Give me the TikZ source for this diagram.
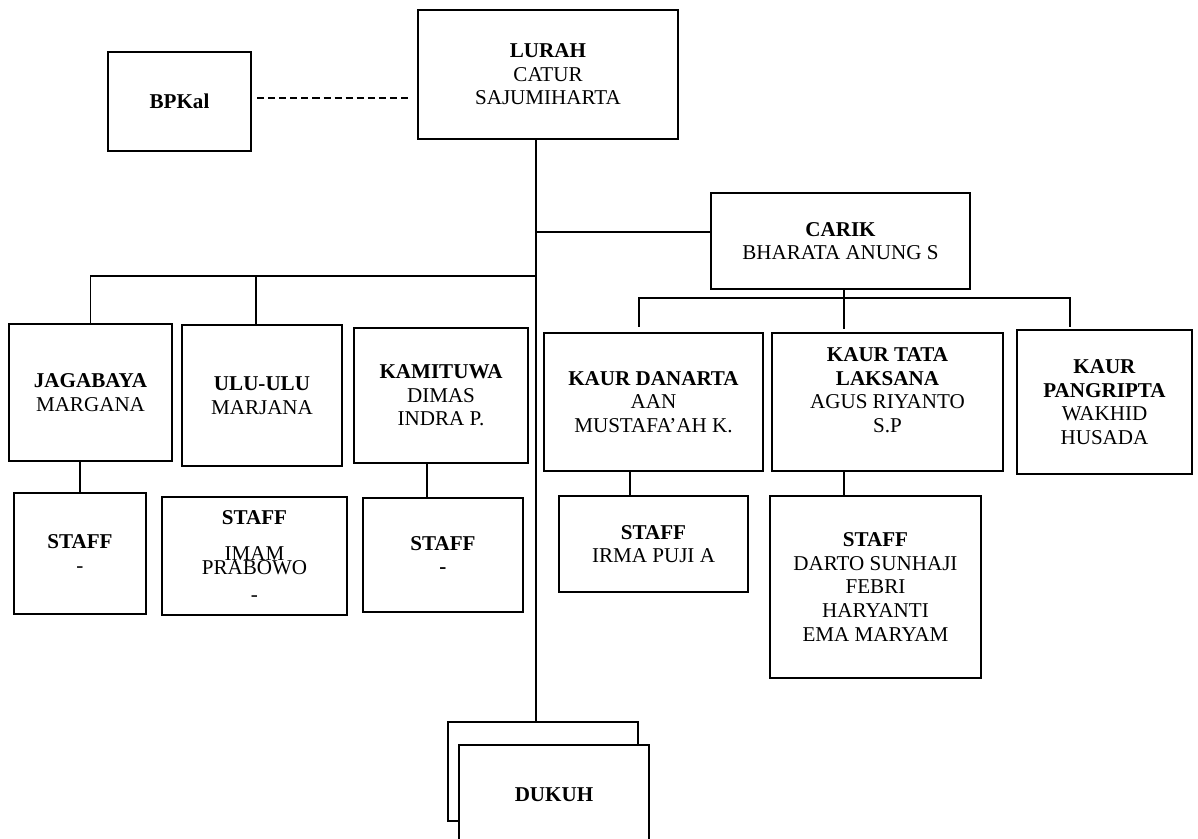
\documentclass[tikz,border=0pt]{standalone}
\usepackage{fontspec}
\setmainfont{Liberation Serif}

\begin{document}
\begin{tikzpicture}[x=0.02cm, y=-0.02cm,
    font=\fontsize{12}{13.4}\selectfont,
    kotak/.style={draw, line width=1.3pt, fill=white, inner sep=0pt, align=center},
    garis/.style={line width=1.1pt}]
    \useasboundingbox (0,0) rectangle (1198,839);

    \node[kotak, minimum width=2.86cm, minimum height=1.98cm] (bpkal) at (179.5,101.5) {\textbf{BPKal}};
    \node[kotak, minimum width=5.2cm, minimum height=2.58cm] (lurah) at (548,74.5) {\textbf{LURAH}\\CATUR\\SAJUMIHARTA};
    \node[kotak, minimum width=5.18cm, minimum height=1.92cm] (carik) at (840.5,241) {\textbf{CARIK}\\BHARATA ANUNG S};

    \node[kotak, minimum width=3.26cm, minimum height=2.74cm] (jagabaya) at (90.5,392.5) {\textbf{JAGABAYA}\\MARGANA};
    \node[kotak, minimum width=3.2cm, minimum height=2.82cm] (ulu) at (262,395.5) {\textbf{ULU-ULU}\\MARJANA};
    \node[kotak, minimum width=3.48cm, minimum height=2.7cm] (kamituwa) at (441,395.5) {\textbf{KAMITUWA}\\DIMAS\\INDRA P.};
    \node[kotak, minimum width=2.64cm, minimum height=2.42cm] (stafjaga) at (80,553.5) {\textbf{STAFF}\\-};
    \node[kotak, minimum width=3.7cm, minimum height=2.36cm] (stafulu) at (254.5,556) {\textbf{STAFF}\\[7pt]IMAM\\[-5.4pt]PRABOWO\\[2.3pt]-};
    \node[kotak, minimum width=3.2cm, minimum height=2.28cm] (stafkami) at (443,555) {\textbf{STAFF}\\\textbf{-}};

    \node[kotak, minimum width=4.38cm, minimum height=2.76cm] (danarta) at (653.5,402) {\textbf{KAUR DANARTA}\\AAN\\MUSTAFA’AH K.};
    \node[kotak, minimum width=4.62cm, minimum height=2.76cm] (tata) at (887.5,402) {\textbf{KAUR TATA}\\\textbf{LAKSANA}\\AGUS RIYANTO\\S.P\\\mbox{}};
    \node[kotak, minimum width=3.5cm, minimum height=2.88cm] (pangripta) at (1104.5,402) {\textbf{KAUR}\\\textbf{PANGRIPTA}\\WAKHID\\HUSADA};
    \node[kotak, minimum width=3.78cm, minimum height=1.92cm] (stafdanarta) at (653.5,544) {\textbf{STAFF}\\IRMA PUJI A};
    \node[kotak, minimum width=4.22cm, minimum height=3.64cm] (staftata) at (875.5,587) {\textbf{STAFF}\\DARTO SUNHAJI\\FEBRI\\HARYANTI\\EMA MARYAM};

    \node[kotak, minimum width=3.8cm, minimum height=1.98cm] (dukuhb) at (543,771.5) {};
    \node[kotak, minimum width=3.8cm, minimum height=2cm] (dukuh) at (554,795) {\textbf{DUKUH}};

    \coordinate (batang) at (536,276);
    \coordinate (bagi) at (844,298);

    \draw[garis, dash pattern=on 4pt off 2.3pt] ([xshift=0.1cm,yshift=0.07cm]bpkal.east) -- ([xshift=-0.1cm,yshift=0.07cm]bpkal.east -| lurah.west);
    \draw[garis] (lurah.south -| batang) -- (dukuhb.north -| batang);
    \draw[garis] (jagabaya.north) |- (batang);
    \draw[garis] ([xshift=-0.12cm]ulu.north) -- ([xshift=-0.12cm]ulu.north |- batang);
    \draw[garis] ([yshift=0.18cm]carik.west) -- ([yshift=0.18cm]carik.west -| batang);

    \draw[garis] (carik.south -| bagi) -- ([xshift=-0.87cm,yshift=0.06cm]tata.north);
    \draw[garis] ([xshift=-0.29cm,yshift=0.1cm]danarta.north) |- (bagi) -| ([xshift=-0.69cm,yshift=0.04cm]pangripta.north);

    \draw[garis] (stafjaga.north) -- (stafjaga.north |- jagabaya.south);
    \draw[garis] ([xshift=-0.28cm]kamituwa.south) -- ([xshift=-0.28cm]kamituwa.south |- stafkami.north);
    \draw[garis] ([xshift=-0.47cm]danarta.south) -- ([xshift=-0.47cm]danarta.south |- stafdanarta.north);
    \draw[garis] (bagi |- tata.south) -- (bagi |- staftata.north);
\end{tikzpicture}
\end{document}
